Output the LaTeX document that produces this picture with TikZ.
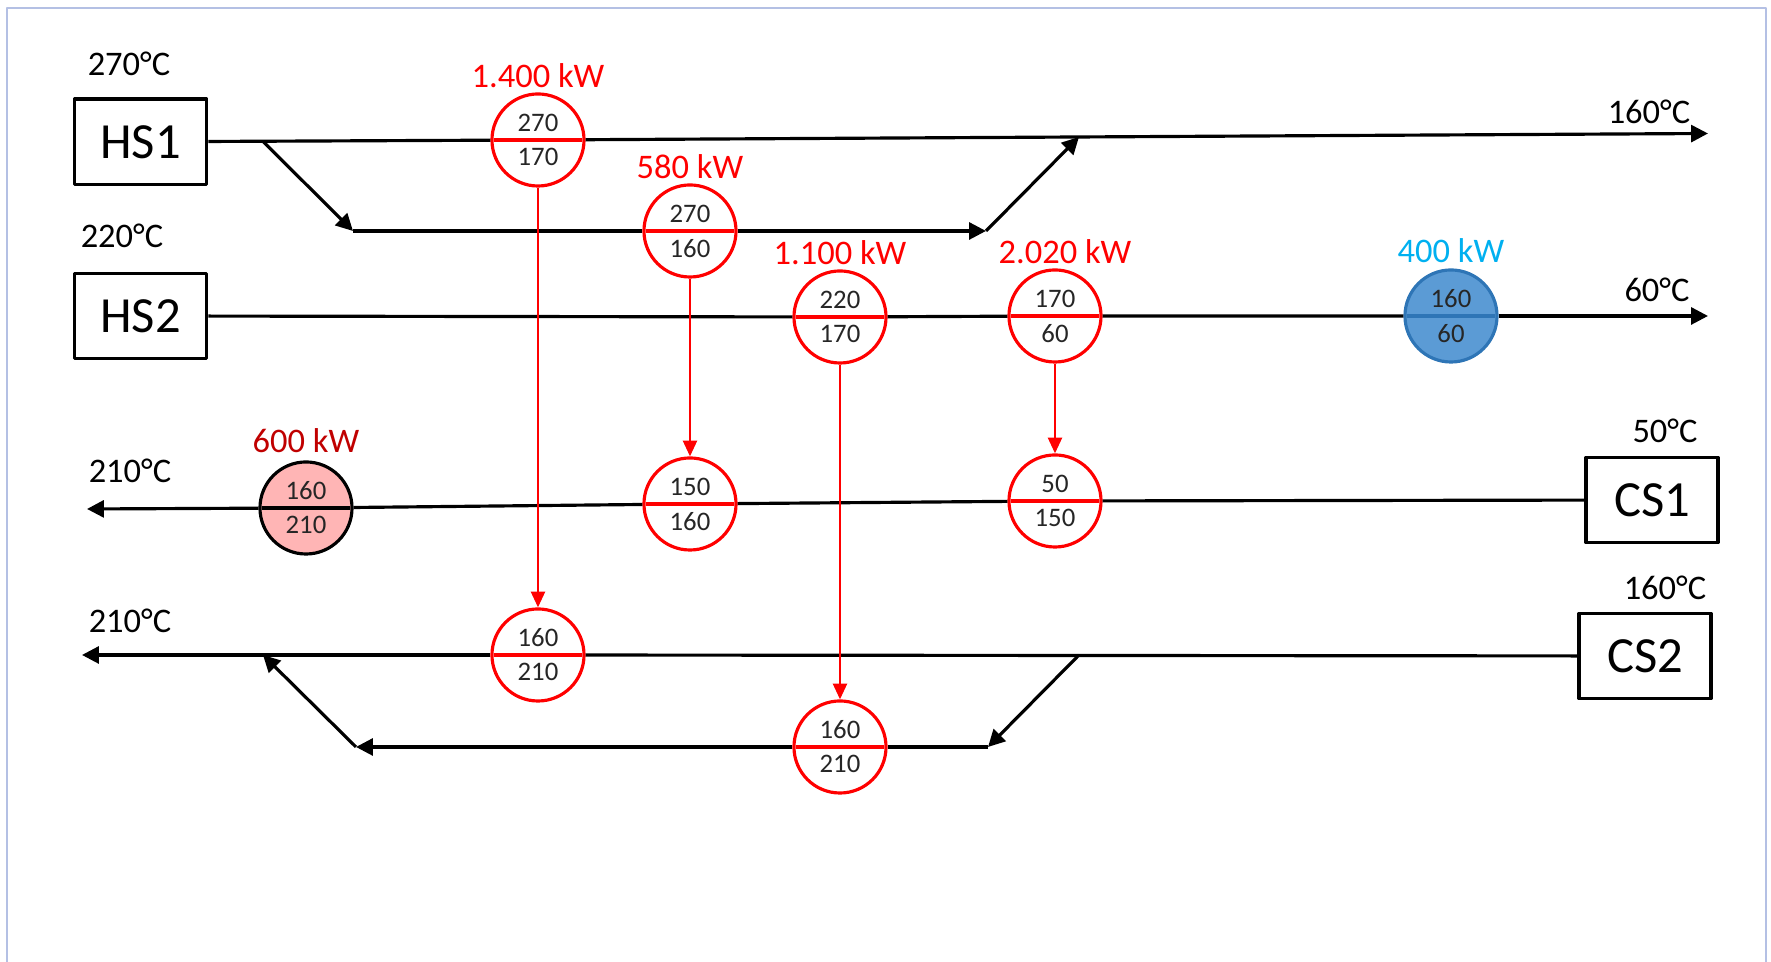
\documentclass[tikz,border=0pt]{standalone}
\usepackage{fontspec}
\setmainfont{Carlito}
\usepackage{tikz}
\usetikzlibrary{arrows.meta, positioning, shapes.multipart}
\definecolor{hxred}{HTML}{FF0000}
\definecolor{heatred}{HTML}{C00000}
\definecolor{heatfill}{HTML}{FFB5B5}
\definecolor{coolblue}{HTML}{00B0F0}
\definecolor{coolfill}{HTML}{5B9BD5}
\definecolor{cooldraw}{HTML}{2E75B6}
\definecolor{framegray}{HTML}{B4C0E4}
\definecolor{numgray}{HTML}{262626}
\tikzset{
  sbox/.style     = {draw, line width=1pt, minimum width=1.32cm,
                     minimum height=0.85cm, inner sep=0pt,
                     font=\fontsize{14.4}{16}\selectfont},
  hxball/.style   = {circle split, draw=hxred, line width=0.9pt, fill=white,
                     minimum size=0.92cm, inner sep=2pt, text=numgray,
                     text depth=-0.6pt, font=\fontsize{7.6}{8}\selectfont},
  coolball/.style = {hxball, draw=cooldraw, fill=coolfill},
  heatball/.style = {hxball, draw=black, fill=heatfill},
  templab/.style  = {anchor=base, inner sep=0pt,
                     font=\fontsize{9.8}{11}\selectfont},
  duty/.style     = {inner sep=0pt, text=hxred,
                     font=\fontsize{9.8}{11}\selectfont},
  pipe/.style     = {line width=0.9pt},
  pipeto/.style   = {pipe, -{Triangle[length=4.8pt, width=4.8pt]}},
  hxlink/.style   = {draw=hxred, line width=0.7pt,
                     -{Triangle[length=4.5pt, width=4pt]}},
}

\begin{document}
\begin{tikzpicture}[x=0.01cm, y=-0.01cm, line join=round]
  \useasboundingbox (0,0) rectangle (1771,962);
  \draw[framegray, line width=0.6pt] (7,962) -- (7,8) -- (1766,8) -- (1766,962);

  % streams
  \node[sbox] (hs1) at (140.6,141.8) {HS1};
  \node[sbox] (hs2) at (140.6,316) {HS2};
  \node[sbox] (cs1) at (1652,500) {CS1};
  \node[sbox] (cs2) at (1645,656) {CS2};

  % exchangers, hot side and cold side
  \node[hxball] (hx1)  at (538,140)  {270\nodepart{lower}170};
  \node[hxball] (hx2)  at (690,231)  {270\nodepart{lower}160};
  \node[hxball] (hx3)  at (840,317)  {220\nodepart{lower}170};
  \node[hxball] (hx4)  at (1055,316) {170\nodepart{lower}60};
  \node[hxball] (hx1c) at (538,655)  {160\nodepart{lower}210};
  \node[hxball] (hx2c) at (690,504)  {150\nodepart{lower}160};
  \node[hxball] (hx3c) at (840,747)  {160\nodepart{lower}210};
  \node[hxball] (hx4c) at (1055,501) {50\nodepart{lower}150};
  \node[coolball] (cooler) at (1451,316) {160\nodepart{lower}60};
  \node[heatball] (heater) at (306,508)  {160\nodepart{lower}210};

  % split and merge points
  \coordinate (sp1)  at (263,141.5);
  \coordinate (b1)   at (353,231);
  \coordinate (b2)   at (986,231);
  \coordinate (mg1)  at (1079,137);
  \coordinate (out1) at (1708,133.5);
  \coordinate (out2) at (1708,316);
  \coordinate (out3) at (87,509);
  \coordinate (out4) at (82,655);
  \coordinate (sp2)  at (1079,655);
  \coordinate (b3)   at (988,747);
  \coordinate (b4)   at (356,747);
  \coordinate (mg2)  at (263,655);

  % HS1
  \draw[pipe] (hs1) -- (hx1);
  \draw[pipeto] (hx1) -- (out1);
  \draw[pipeto] (sp1) -- (b1);
  \draw[pipe] (b1) -- (hx2);
  \draw[pipeto] (hx2) -- (b2);
  \draw[pipeto] (b2) -- (mg1);
  % HS2
  \draw[pipe] (hs2) -- (hx3) -- (hx4) -- (cooler);
  \draw[pipeto] (cooler) -- (out2);
  % CS1
  \draw[pipe] (cs1) -- (hx4c) -- (hx2c) -- (heater);
  \draw[pipeto] (heater) -- (out3);
  % CS2
  \draw[pipe] (cs2) -- (hx1c);
  \draw[pipeto] (hx1c) -- (out4);
  \draw[pipeto] (sp2) -- (b3);
  \draw[pipe] (b3) -- (hx3c);
  \draw[pipeto] (hx3c) -- (b4);
  \draw[pipeto] (b4) -- (mg2);

  % heat links
  \draw[hxlink] (hx1) -- (hx1c);
  \draw[hxlink] (hx2) -- (hx2c);
  \draw[hxlink] (hx3) -- (hx3c);
  \draw[hxlink] (hx4) -- (hx4c);

  % duties
  \node[duty, above=1.1pt of hx1] (q1) {1.400 kW};
  \node[duty, above=1.1pt of hx2] (q2) {580 kW};
  \node[duty, above=1.1pt of hx3] (q3) {1.100 kW};
  \node[duty, above=1.1pt of hx4, xshift=0.1cm] (q4) {2.020 kW};
  \node[duty, above=1.4pt of cooler, text=coolblue] (qc) {400 kW};
  \node[duty, above=2pt of heater, text=heatred] (qh) {600 kW};

  % temperatures
  \node[templab] (t1) at (129,76)   {270°C};
  \node[templab] (t2) at (122,248)  {220°C};
  \node[templab] (t3) at (1649,124) {160°C};
  \node[templab] (t4) at (1657,302) {60°C};
  \node[templab] (t5) at (1665,443) {50°C};
  \node[templab] (t6) at (1665,600) {160°C};
  \node[templab] (t7) at (130,483)  {210°C};
  \node[templab] (t8) at (130,633)  {210°C};
\end{tikzpicture}
\end{document}
